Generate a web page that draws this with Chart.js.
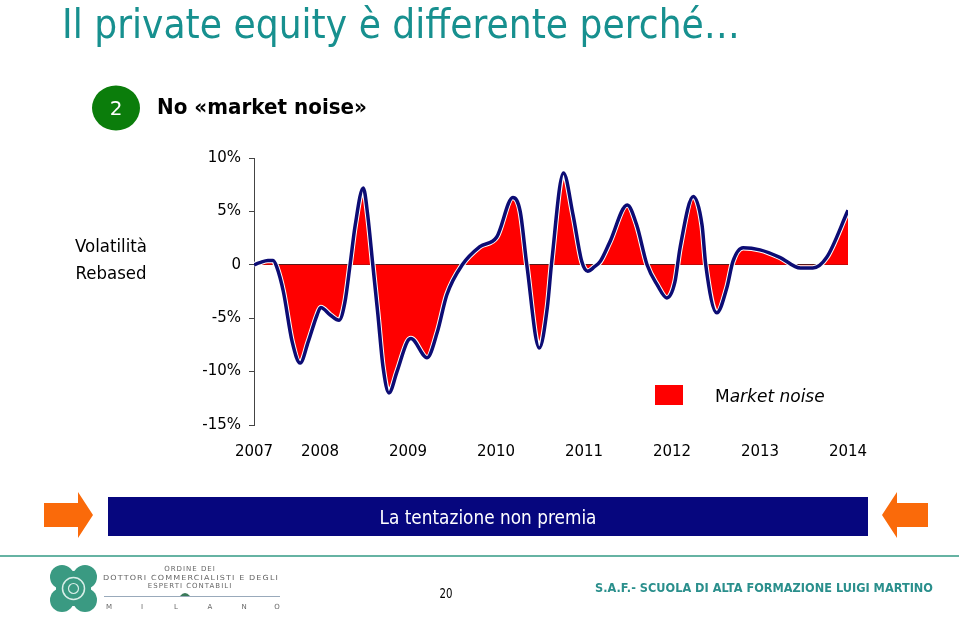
<!DOCTYPE html>
<html>
<head>
<meta charset="utf-8">
<script src="https://cdn.jsdelivr.net/npm/chart.js@4"></script>
<style>
  html, body { margin: 0; padding: 0; background: #fff; }
  #wrap { position: relative; width: 959px; height: 618px; overflow: hidden; }
  #noiseChart { position: absolute; left: 0; top: 0; }
  #overlay { position: absolute; left: 0; top: 0; pointer-events: none; }
</style>
</head>
<body>
<div id="wrap">
  <canvas id="noiseChart" width="959" height="618"></canvas>
  <svg id="overlay" width="959" height="618" font-family="DejaVu Sans">
    <!-- header -->
    <text x="62" y="38" font-size="40" fill="#17908f" textLength="678" lengthAdjust="spacingAndGlyphs">Il private equity è differente perché…</text>
    <ellipse cx="116" cy="108" rx="24" ry="22.5" fill="#0b7d0b"/>
    <text x="116" y="115" font-size="20" fill="#fff" text-anchor="middle">2</text>
    <text x="157" y="114" font-size="22" font-weight="bold" fill="#000" textLength="210" lengthAdjust="spacingAndGlyphs">No «market noise»</text>

    <!-- axis title -->
    <text x="111" y="252" font-size="18" text-anchor="middle" textLength="72" lengthAdjust="spacingAndGlyphs">Volatilità</text>
    <text x="111" y="279" font-size="18" text-anchor="middle" textLength="71" lengthAdjust="spacingAndGlyphs">Rebased</text>

    <!-- legend -->
    <rect x="655" y="385" width="28" height="20" fill="#ff0000"/>
    <text x="715" y="402" font-size="17" fill="#000">M<tspan font-style="italic">arket noise</tspan></text>

    <!-- banner -->
    <polygon points="44,503 78,503 78,492 93,515 78,538 78,527 44,527" fill="#fa6a0a"/>
    <polygon points="928,503 897,503 897,492 882,515 897,538 897,527 928,527" fill="#fa6a0a"/>
    <rect x="108" y="497" width="760" height="39" fill="#06067e"/>
    <text x="488" y="524" font-size="19" fill="#fff" text-anchor="middle" textLength="217" lengthAdjust="spacingAndGlyphs">La tentazione non premia</text>

    <!-- footer -->
    <rect x="0" y="555" width="959" height="2" fill="#66b3a3"/>
    <g fill="#3a9a82">
      <circle cx="62" cy="577" r="12"/>
      <circle cx="85" cy="577" r="12"/>
      <circle cx="62" cy="600" r="12"/>
      <circle cx="85" cy="600" r="12"/>
      <rect x="56" y="571" width="35" height="35"/>
    </g>
    <circle cx="73.5" cy="588.5" r="11" fill="none" stroke="#d8eee8" stroke-width="1.5"/>
    <circle cx="73.5" cy="588.5" r="5" fill="none" stroke="#d8eee8" stroke-width="1.2"/>
    <g font-size="7" fill="#666" text-anchor="middle" letter-spacing="1">
      <text x="190" y="571">ORDINE DEI</text>
      <text x="191" y="580" textLength="176" lengthAdjust="spacingAndGlyphs">DOTTORI COMMERCIALISTI E DEGLI</text>
      <text x="190" y="588">ESPERTI CONTABILI</text>
    </g>
    <rect x="104" y="596" width="176" height="1" fill="#9ab"/>
    <path d="M180,596 q5,-6 10,0 z" fill="#3a7a5a"/>
    <g font-size="7" fill="#666" text-anchor="middle">
      <text x="109" y="609">M</text><text x="142" y="609">I</text><text x="176" y="609">L</text>
      <text x="210" y="609">A</text><text x="244" y="609">N</text><text x="277" y="609">O</text>
    </g>
    <text x="446" y="598" font-size="14" text-anchor="middle" textLength="13" lengthAdjust="spacingAndGlyphs">20</text>
    <text x="595" y="592" font-size="13" font-weight="bold" fill="#2a8f8c" textLength="338" lengthAdjust="spacingAndGlyphs">S.A.F.- SCUOLA DI ALTA FORMAZIONE LUIGI MARTINO</text>
  </svg>
</div>
<script>
// x positions in months from Jan 2007, values in %
const tickMonths = [3, 12, 24, 36, 48, 60, 72, 84];
const tickLabels = ['2007', '2008', '2009', '2010', '2011', '2012', '2013', '2014'];

const months = [3.0, 3.8, 4.9, 5.6, 6.1, 7.0, 8.2, 9.3, 10.4, 11.6, 12.1, 13.4, 14.6, 15.4,
    16.1, 16.8, 17.9, 18.5, 19.2, 19.9, 20.6, 21.4, 22.5, 23.9, 24.4, 26.6, 28.0, 29.3,
    31.4, 33.8, 36.1, 38.3, 39.3, 40.2, 41.9, 43.0, 43.6, 45.2, 46.5, 47.7, 48.5, 49.4,
    50.2, 51.5, 53.9, 55.2, 56.6, 58.0, 59.3, 60.4, 61.1, 62.9, 64.1, 64.6, 66.1, 67.5,
    68.3, 69.7, 72.0, 74.7, 77.5, 79.2, 81.1, 84.0];
const noise = [0.0, 0.2, 0.4, 0.4, -0.2, -2.5, -7.2, -9.2, -7.2, -4.7, -4.0, -4.7, -5.2, -3.5,
    0.0, 3.7, 7.2, 4.7, 0.0, -4.7, -9.6, -12.0, -10.0, -7.2, -6.9, -8.7, -6.3, -2.8,
    0.0, 1.7, 2.6, 6.3, 5.0, 0.0, -7.8, -4.0, 0.3, 8.6, 4.7, 0.3, -0.6, -0.2,
    0.3, 2.1, 5.6, 3.7, 0.0, -1.9, -3.1, -1.6, 1.6, 6.4, 3.7, 0.0, -4.5, -2.1,
    0.3, 1.6, 1.4, 0.7, -0.3, -0.3, 0.7, 5.1];

const yTicks = [-15, -10, -5, 0, 5, 10];

Chart.defaults.font.family = "'DejaVu Sans', Verdana, sans-serif";
Chart.defaults.color = '#000';

const points = months.map((m, i) => ({ x: m, y: noise[i] }));

new Chart(document.getElementById('noiseChart').getContext('2d'), {
    type: 'line',
    data: {
        datasets: [
            {
                label: 'Volatilità',
                data: points,
                borderColor: '#0c0c74',
                borderWidth: 3.5,
                fill: false,
                pointRadius: 0,
                cubicInterpolationMode: 'monotone',
                order: 0
            },
            {
                label: 'Market noise',
                data: points,
                borderColor: '#ffffff',
                borderWidth: 5.5,
                backgroundColor: '#ff0000',
                fill: 'origin',
                pointRadius: 0,
                cubicInterpolationMode: 'monotone',
                order: 1
            }
        ]
    },
    options: {
        responsive: false,
        animation: false,
        layout: {
            padding: { left: 194, right: 111, top: 158, bottom: 153 }
        },
        plugins: {
            legend: { display: false },
            tooltip: { enabled: false }
        },
        scales: {
            x: {
                type: 'linear',
                min: 3,
                max: 84,
                afterBuildTicks: function(scale) {
                    scale.ticks = tickMonths.map(v => ({ value: v }));
                },
                afterFit: function(scale) { scale.height = 40; },
                ticks: {
                    autoSkip: false,
                    maxRotation: 0,
                    padding: 10,
                    font: { size: 15 },
                    callback: function(value) {
                        const i = tickMonths.indexOf(value);
                        return i >= 0 ? tickLabels[i] : '';
                    }
                },
                grid: { display: false },
                border: { display: false }
            },
            y: {
                min: -15,
                max: 10,
                afterBuildTicks: function(scale) {
                    scale.ticks = yTicks.map(v => ({ value: v }));
                },
                afterFit: function(scale) { scale.width = 60; },
                ticks: {
                    padding: 8,
                    font: { size: 15 },
                    callback: function(value) {
                        return value === 0 ? '0' : value + '%';
                    }
                },
                grid: {
                    color: function(ctx) {
                        return ctx.tick && ctx.tick.value === 0 ? '#222' : 'rgba(0,0,0,0)';
                    },
                    tickColor: '#444',
                    tickLength: 5,
                    lineWidth: 1
                },
                border: { display: true, color: '#444', width: 1 }
            }
        }
    }
});
</script>
</body>
</html>
